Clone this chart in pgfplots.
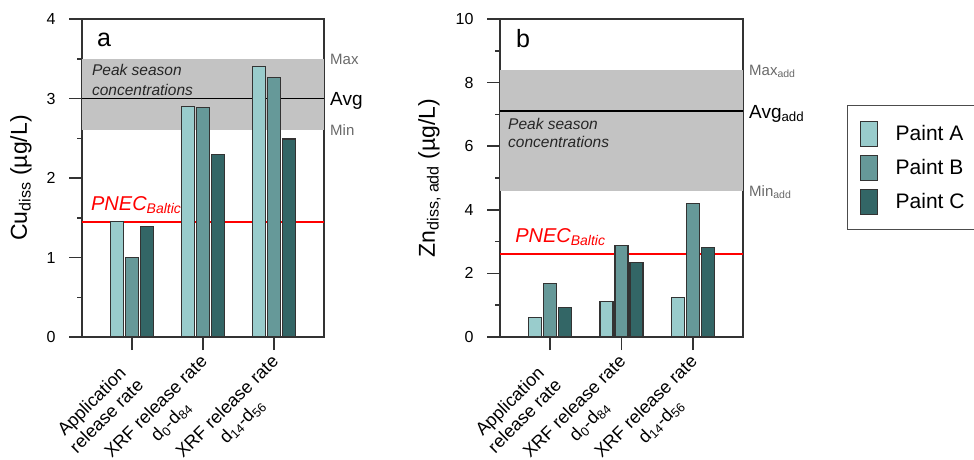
\documentclass[border=0pt]{standalone}
\usepackage{pgfplots}
\pgfplotsset{compat=1.18}
\usepackage{pgfplotstable}
\usepackage{fontspec}
\setmainfont{Liberation Sans}
\definecolor{pA}{RGB}{153,204,204}
\definecolor{pB}{RGB}{102,153,153}
\definecolor{pC}{RGB}{51,102,102}
\definecolor{band}{RGB}{195,195,195}
\definecolor{lab}{RGB}{105,105,105}
\newcommand\fs[1]{\fontsize{#1}{#1}\selectfont}

\pgfplotstableread{
x A B C
0 1.45 1.00 1.39
1 2.90 2.89 2.30
2 3.40 3.26 2.49
}\cutab
\pgfplotstableread{
x A B C
0 0.61 1.67 0.93
1 1.13 2.88 2.35
2 1.24 4.21 2.81
}\zntab

\pgfplotsset{
  mybar/.style={ybar, bar width=13pt, draw=black!80, line width=1.1pt,
    legend image code/.code={\draw[##1] (0pt,-12.5pt) rectangle (17pt,12.5pt);}},
  panel/.style={
    scale only axis, anchor=south west,
    xmin=-0.7, xmax=2.7, ymin=0,
    xtick={0,1,2},
    xticklabels={{Application\\release rate},
                 {XRF release rate\\d\textsubscript{0}-d\textsubscript{84}},
                 {XRF release rate\\d\textsubscript{14}-d\textsubscript{56}}},
    xticklabel style={font=\fontsize{18}{21}\selectfont, align=center, rotate=45, anchor=east, inner sep=0pt, yshift=-18pt, xshift=-5pt,
      /utils/exec={\ifnum\ticknum=0\relax\pgfkeysalso{/tikz/xshift=-12pt}\fi}},
    tick align=outside, major tick length=13pt, minor tick length=5pt,
    xtick pos=bottom, ytick pos=left,
    axis line style={black!80, line width=1.5pt},
    every tick/.style={black!80, line width=1.5pt},
    yticklabel style={font=\fs{16}, xshift=-10pt},
    /pgf/number format/assume math mode=true,
    ylabel style={font=\fs{23}, anchor=center},
    clip mode=individual,
  }
}

\begin{document}
\begin{tikzpicture}
\useasboundingbox (0,0) rectangle (974pt,459pt);
% ---------------- panel a
\begin{axis}[panel, at={(82pt,122pt)}, width=242pt, height=318pt,
  ymax=4, ytick={0,1,2,3,4}, minor ytick={0.5,1.5,2.5,3.5},
  ylabel={Cu\textsubscript{diss} (µg/L)},
  ylabel style={at={(axis description cs:-0.252,0.5)}}]
\addplot[fill=band, draw=none, forget plot] coordinates {(-0.7,2.6) (2.7,2.6) (2.7,3.5) (-0.7,3.5)} -- cycle;
\addplot[black, line width=1.6pt, forget plot] coordinates {(-0.7,3.0) (2.7,3.0)};
\addplot[draw=red, line width=1.8pt, forget plot] coordinates {(-0.7,1.45) (2.7,1.45)};
\addplot[mybar, fill=pA, bar shift=-15pt] table[x=x, y=A] {\cutab};
\addplot[mybar, fill=pB, bar shift=0pt] table[x=x, y=B] {\cutab};
\addplot[mybar, fill=pC, bar shift=15pt] table[x=x, y=C] {\cutab};
\node[anchor=base west, inner sep=0pt, font=\fs{25}] at (axis description cs:0.062,0.912) {a};
\node[anchor=base west, inner sep=0pt, font=\fs{15.5}\itshape, text=black!85] at (axis description cs:0.041,0.821) {Peak season};
\node[anchor=base west, inner sep=0pt, font=\fs{15.5}\itshape, text=black!85] at (axis description cs:0.041,0.761) {concentrations};
\node[anchor=base west, inner sep=0pt, font=\fs{20}\itshape, text=red] at (axis description cs:0.037,0.399) {PNEC\textsubscript{Baltic}};
\node[anchor=base west, inner sep=0pt, font=\fs{15}, text=lab, xshift=6pt, yshift=-5.4pt] at (axis cs:2.7,3.5) {Max};
\node[anchor=base west, inner sep=0pt, font=\fs{19}, text=black, xshift=6pt, yshift=-6.8pt] at (axis cs:2.7,3.0) {Avg};
\node[anchor=base west, inner sep=0pt, font=\fs{15}, text=lab, xshift=6pt, yshift=-5.4pt] at (axis cs:2.7,2.6) {Min};
\end{axis}
% ---------------- panel b
\begin{axis}[panel, at={(500pt,122pt)}, width=243pt, height=318pt,
  ymax=10, ytick={0,2,4,6,8,10}, minor ytick={1,3,5,7,9},
  ylabel={Zn\textsubscript{diss, add} (µg/L)},
  ylabel style={at={(axis description cs:-0.29,0.5)}},
  legend style={at={(axis description cs:1.428,0.7296)}, anchor=north west,
    draw=black!70, line width=1.2pt, font=\fs{21},
    inner xsep=12pt, inner ysep=15pt, row sep=8pt,
    /tikz/every odd column/.append style={column sep=16pt}},
  legend cell align=left]
\addplot[fill=band, draw=none, forget plot] coordinates {(-0.7,4.6) (2.7,4.6) (2.7,8.4) (-0.7,8.4)} -- cycle;
\addplot[black, line width=1.6pt, forget plot] coordinates {(-0.7,7.1) (2.7,7.1)};
\addplot[draw=red, line width=1.8pt, forget plot] coordinates {(-0.7,2.6) (2.7,2.6)};
\addplot[mybar, fill=pA, bar shift=-15pt] table[x=x, y=A] {\zntab};
\addlegendentry{Paint A}
\addplot[mybar, fill=pB, bar shift=0pt] table[x=x, y=B] {\zntab};
\addlegendentry{Paint B}
\addplot[mybar, fill=pC, bar shift=15pt] table[x=x, y=C] {\zntab};
\addlegendentry{Paint C}
\node[anchor=base west, inner sep=0pt, font=\fs{25}] at (axis description cs:0.066,0.909) {b};
\node[anchor=base west, inner sep=0pt, font=\fs{15.5}\itshape, text=black!85] at (axis description cs:0.033,0.651) {Peak season};
\node[anchor=base west, inner sep=0pt, font=\fs{15.5}\itshape, text=black!85] at (axis description cs:0.033,0.597) {concentrations};
\node[anchor=base west, inner sep=0pt, font=\fs{20}\itshape, text=red] at (axis description cs:0.062,0.296) {PNEC\textsubscript{Baltic}};
\node[anchor=base west, inner sep=0pt, font=\fs{15}, text=lab, xshift=6pt, yshift=-5.4pt] at (axis cs:2.7,8.4) {Max\textsubscript{add}};
\node[anchor=base west, inner sep=0pt, font=\fs{19}, text=black, xshift=6pt, yshift=-6.8pt] at (axis cs:2.7,7.1) {Avg\textsubscript{add}};
\node[anchor=base west, inner sep=0pt, font=\fs{15}, text=lab, xshift=6pt, yshift=-5.4pt] at (axis cs:2.7,4.6) {Min\textsubscript{add}};
\end{axis}
\end{tikzpicture}
\end{document}
